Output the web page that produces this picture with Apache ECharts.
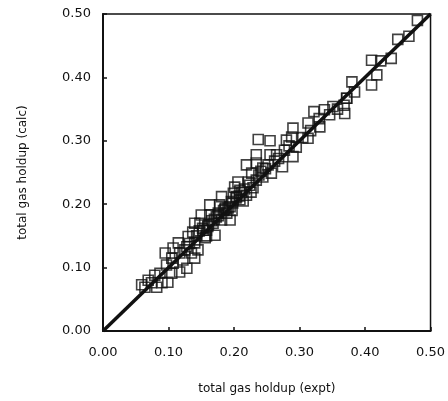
<!DOCTYPE html>
<html>
<head>
<meta charset="utf-8">
<script src="https://cdn.jsdelivr.net/npm/echarts@6/dist/echarts.min.js"></script>
<style>
  html, body { margin: 0; padding: 0; background: #fff; }
  #chart { width: 448px; height: 401px; }
</style>
</head>
<body>
<div id="chart"></div>
<script>
// Total gas holdup: measured (expt) vs. predicted (calc)
const holdupExpt = [
  0.480, 0.450, 0.467, 0.410, 0.424, 0.440, 0.418, 0.410, 0.380, 0.384,
  0.372, 0.368, 0.369, 0.351, 0.338, 0.322, 0.346, 0.331, 0.313, 0.313,
  0.290, 0.280, 0.288, 0.290, 0.295, 0.277, 0.237, 0.255, 0.234, 0.255,
  0.265, 0.219, 0.234, 0.244, 0.257, 0.227, 0.234, 0.222, 0.206, 0.219,
  0.201, 0.209, 0.199, 0.194, 0.181, 0.178, 0.189, 0.194, 0.176, 0.163,
  0.163, 0.168, 0.150, 0.148, 0.153, 0.171, 0.156, 0.140, 0.137, 0.130,
  0.140, 0.145, 0.135, 0.140, 0.128, 0.115, 0.117, 0.107, 0.105, 0.095,
  0.097, 0.117, 0.128, 0.105, 0.099, 0.090, 0.079, 0.069, 0.059, 0.064,
  0.082, 0.074, 0.198, 0.204, 0.209, 0.181, 0.158, 0.122, 0.107, 0.087,
  0.244, 0.274, 0.305, 0.317, 0.330, 0.358, 0.372, 0.186, 0.170, 0.214,
  0.132, 0.143, 0.152, 0.160, 0.166, 0.173, 0.184, 0.191, 0.196, 0.203,
  0.212, 0.216, 0.224, 0.229, 0.241, 0.248, 0.252, 0.262, 0.268, 0.284,
  0.125, 0.147, 0.158, 0.176, 0.187, 0.208, 0.226, 0.238, 0.161, 0.197
];
const holdupCalc = [
  0.490, 0.460, 0.465, 0.427, 0.426, 0.430, 0.404, 0.388, 0.393, 0.377,
  0.367, 0.356, 0.343, 0.354, 0.349, 0.346, 0.341, 0.322, 0.328, 0.304,
  0.320, 0.301, 0.306, 0.275, 0.290, 0.285, 0.302, 0.300, 0.278, 0.278,
  0.278, 0.262, 0.265, 0.257, 0.249, 0.249, 0.238, 0.235, 0.235, 0.214,
  0.227, 0.207, 0.217, 0.196, 0.212, 0.199, 0.186, 0.175, 0.186, 0.199,
  0.183, 0.170, 0.183, 0.170, 0.159, 0.151, 0.147, 0.170, 0.156, 0.149,
  0.139, 0.128, 0.123, 0.115, 0.133, 0.139, 0.123, 0.131, 0.115, 0.123,
  0.104, 0.093, 0.099, 0.091, 0.077, 0.076, 0.088, 0.080, 0.073, 0.069,
  0.069, 0.076, 0.202, 0.212, 0.222, 0.175, 0.159, 0.112, 0.107, 0.091,
  0.243, 0.259, 0.305, 0.316, 0.335, 0.350, 0.367, 0.192, 0.176, 0.205,
  0.138, 0.150, 0.162, 0.165, 0.174, 0.180, 0.190, 0.194, 0.204, 0.210,
  0.218, 0.224, 0.230, 0.226, 0.252, 0.256, 0.262, 0.268, 0.272, 0.292,
  0.128, 0.158, 0.150, 0.182, 0.194, 0.213, 0.219, 0.246, 0.168, 0.190
];
// Parity line y = x
const parityLine = [[0, 0], [0.5, 0.5]];
const tickStep = 0.1;
const axisMin = 0;
const axisMax = 0.5;

const points = holdupExpt.map((x, i) => [x, holdupCalc[i]]);
const ink = '#111';
const labelFont = 'DejaVu Sans';

const valueAxis = (name, gap, rotate, labelMargin) => ({
  type: 'value',
  min: axisMin,
  max: axisMax,
  interval: tickStep,
  name: name,
  nameLocation: 'middle',
  nameGap: gap,
  nameRotate: rotate,
  nameTextStyle: { color: ink, fontFamily: labelFont, fontSize: 12 },
  axisLine: { show: true, lineStyle: { color: ink, width: 2 } },
  axisTick: { show: true, inside: true, length: 4, lineStyle: { color: ink, width: 1.5 } },
  axisLabel: {
    color: ink, fontFamily: labelFont, fontSize: 13,
    margin: labelMargin,
    formatter: v => v.toFixed(2)
  },
  splitLine: { show: false }
});

const chart = echarts.init(document.getElementById('chart'));
chart.setOption({
  backgroundColor: '#fff',
  animation: false,
  grid: {
    left: 103, right: 17, top: 14, bottom: 70,
    show: true, borderColor: ink, borderWidth: 1.5, backgroundColor: 'transparent'
  },
  xAxis: valueAxis('total gas holdup (expt)', 52, 0, 15),
  yAxis: valueAxis('total gas holdup (calc)', 74, 90, 12),
  series: [
    {
      type: 'scatter',
      data: points,
      symbol: 'rect',
      symbolSize: 10,
      itemStyle: { color: 'transparent', borderColor: ink, borderWidth: 1.6 },
      z: 2
    },
    {
      type: 'line',
      data: parityLine,
      showSymbol: false,
      lineStyle: { color: ink, width: 3.5 },
      z: 3
    }
  ]
});
</script>
</body>
</html>
